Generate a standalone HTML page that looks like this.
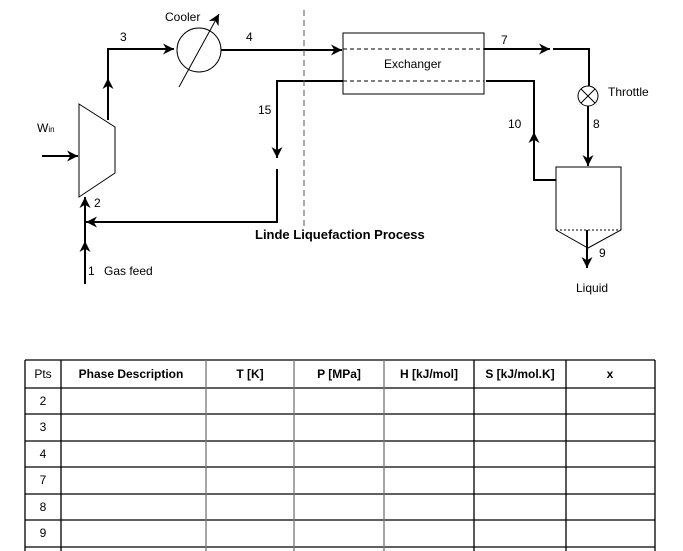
<!DOCTYPE html>
<html><head><style>
body{margin:0;background:#fff;width:683px;height:551px;overflow:hidden;font-family:"Liberation Sans",sans-serif;}
svg{position:absolute;left:0;top:0}
</style></head><body>
<svg width="683" height="551" font-family="Liberation Sans, sans-serif" font-size="12">
<defs><marker id="a" viewBox="0 0 10 10" refX="10" refY="5" markerWidth="11" markerHeight="11" orient="auto" markerUnits="userSpaceOnUse"><path d="M0,0 L10,5 L0,10 L3,5z" fill="#000"/></marker></defs>
<g stroke="#000" stroke-width="2" fill="none">
<polygon points="79,104 115,127 115,173 79,197" stroke-width="1"/>
<line x1="108" y1="120" x2="108" y2="78" marker-end="url(#a)"/>
<polyline points="108,80 108,49 174,49" marker-end="url(#a)"/>
<circle cx="199" cy="50" r="22" stroke-width="1"/>
<line x1="179" y1="87" x2="219" y2="14" stroke-width="1" marker-end="url(#a)"/>
<line x1="221" y1="50" x2="342" y2="50" marker-end="url(#a)"/>
<rect x="343" y="33" width="141" height="61" stroke-width="1"/>
<line x1="343" y1="49" x2="484" y2="49" stroke-width="1" stroke-dasharray="4,3"/>
<line x1="343" y1="81" x2="484" y2="81" stroke-width="1" stroke-dasharray="4,3"/>
<polyline points="343,81 277,81 277,158" marker-end="url(#a)"/>
<polyline points="277,169 277,222 86,222" marker-end="url(#a)"/>
<line x1="304" y1="10" x2="304" y2="226" stroke-width="1" stroke-dasharray="6,4" stroke="#555"/>
<line x1="85" y1="284" x2="85" y2="241" marker-end="url(#a)"/>
<line x1="85" y1="241" x2="85" y2="197" marker-end="url(#a)"/>
<line x1="42" y1="156" x2="78" y2="156" marker-end="url(#a)"/>
<line x1="484" y1="49" x2="550" y2="49" marker-end="url(#a)"/>
<polyline points="553,49 589,49 589,86"/>
<circle cx="588" cy="96" r="10" stroke-width="1"/>
<line x1="581" y1="89" x2="595" y2="103" stroke-width="1"/>
<line x1="595" y1="89" x2="581" y2="103" stroke-width="1"/>
<line x1="588" y1="106" x2="588" y2="166" marker-end="url(#a)"/>
<polyline points="556,230 556,167 621,167 621,230 588,248 556,230" stroke-width="1"/>
<line x1="556" y1="230" x2="621" y2="230" stroke-width="1" stroke-dasharray="2,2"/>
<polyline points="556,180 534,180 534,132" marker-end="url(#a)"/>
<polyline points="534,135 534,81 486,81"/>
<line x1="587" y1="230" x2="587" y2="268" marker-end="url(#a)"/>
</g>
<g fill="#000">
<text x="165" y="21">Cooler</text>
<text x="120" y="41">3</text>
<text x="246" y="41">4</text>
<text x="258" y="114">15</text>
<text x="37" y="132">W<tspan font-size="8">in</tspan></text>
<text x="94" y="207">2</text>
<text x="88" y="275">1</text>
<text x="104" y="275">Gas feed</text>
<text x="255" y="239" font-weight="bold" font-size="13">Linde Liquefaction Process</text>
<text x="384" y="68">Exchanger</text>
<text x="501" y="44">7</text>
<text x="608" y="96">Throttle</text>
<text x="508" y="128">10</text>
<text x="593" y="128">8</text>
<text x="599" y="257">9</text>
<text x="576" y="292">Liquid</text>
</g>
<g stroke="#000" stroke-width="1.3">
<line x1="25" y1="360" x2="655" y2="360"/>
<line x1="25" y1="388" x2="655" y2="388"/>
<line x1="25" y1="414" x2="655" y2="414"/>
<line x1="25" y1="441" x2="655" y2="441"/>
<line x1="25" y1="467" x2="655" y2="467"/>
<line x1="25" y1="494" x2="655" y2="494"/>
<line x1="25" y1="520" x2="655" y2="520"/>
<line x1="25" y1="547" x2="655" y2="547"/>
<line x1="25" y1="360" x2="25" y2="551"/>
<line x1="61" y1="360" x2="61" y2="551"/>
<line x1="206" y1="360" x2="206" y2="551" stroke="#777"/>
<line x1="294" y1="360" x2="294" y2="551" stroke="#777"/>
<line x1="384" y1="360" x2="384" y2="551" stroke="#777"/>
<line x1="474" y1="360" x2="474" y2="551"/>
<line x1="566" y1="360" x2="566" y2="551"/>
<line x1="655" y1="360" x2="655" y2="551"/>
</g>
<g fill="#000" text-anchor="middle">
<text x="43" y="378">Pts</text>
<g font-weight="bold">
<text x="131" y="378">Phase Description</text>
<text x="250" y="378">T [K]</text>
<text x="339" y="378">P [MPa]</text>
<text x="429" y="378">H [kJ/mol]</text>
<text x="520" y="378">S [kJ/mol.K]</text>
<text x="610" y="378">x</text>
</g>
<text x="43" y="405">2</text>
<text x="43" y="431">3</text>
<text x="43" y="458">4</text>
<text x="43" y="484">7</text>
<text x="43" y="511">8</text>
<text x="43" y="537">9</text>
</g>
</svg>
</body></html>
